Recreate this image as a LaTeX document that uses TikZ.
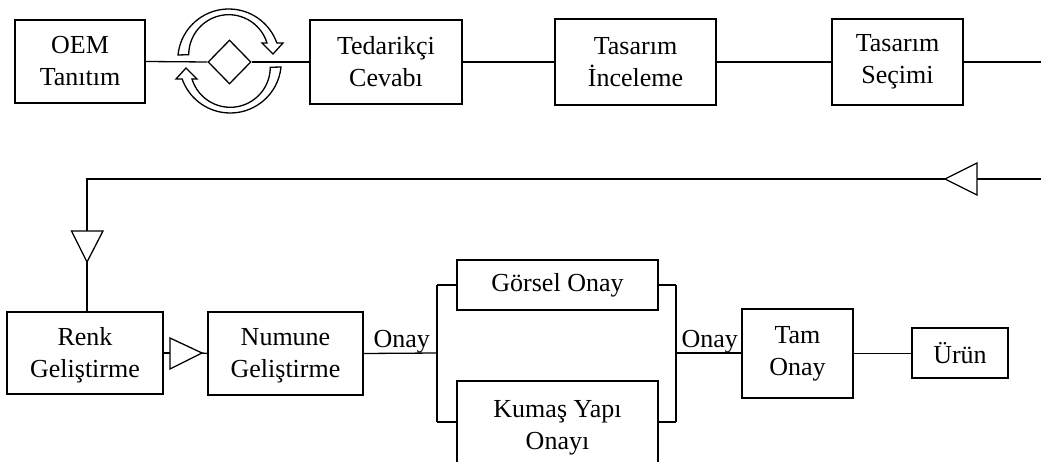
\documentclass[tikz,border=0pt]{standalone}
\usepackage{fontspec}
\setmainfont{Liberation Serif}
\usetikzlibrary{shapes.geometric}
\begin{document}
\begin{tikzpicture}[x=1pt,y=-1pt, line width=1.3pt,
  box/.style={draw, align=center, inner sep=0pt, font=\fontsize{26}{32}\selectfont},
  lbl/.style={inner sep=0pt, font=\fontsize{26}{32}\selectfont, anchor=base west},
  tri/.style={draw, fill=white, line join=miter},
  cyc/.style={draw, fill=white, line join=miter}]
\useasboundingbox (0,0) rectangle (1041,462);
\clip (0,0) rectangle (1041,462);
% top row
\node[box, minimum width=130pt, minimum height=83pt] (oem) at (80,61.5) {OEM\\Tanıtım};
\node[draw, diamond, inner sep=0pt, minimum width=43pt, minimum height=44pt] (dia) at (229.5,62) {};
\node[box, minimum width=152pt, minimum height=84pt] (ted) at (386,62) {Tedarikçi\\Cevabı};
\node[box, minimum width=161pt, minimum height=86pt] (tin) at (635.5,62) {Tasarım\\İnceleme};
\node[box, minimum width=131pt, minimum height=86pt] (tsec) at (897.5,62) {Tasarım\\Seçimi};
\coordinate (out1) at (1041,62);
% cycle arrows
\path[cyc] (178,55) arc[start angle=174.4, end angle=19.5, radius=51pt]
  -- (283,43) -- (273,54) -- (262,43) -- (267,43)
  arc[start angle=17, end angle=180, radius=40pt] -- cycle;
\path[cyc, rotate around={180:(229.5,61)}] (178,55) arc[start angle=174.4, end angle=19.5, radius=51pt]
  -- (283,43) -- (273,54) -- (262,43) -- (267,43)
  arc[start angle=17, end angle=180, radius=40pt] -- cycle;
\draw (oem.east) -- (dia.west);
\draw (dia.east) -- (ted.west);
\draw (ted.east) -- (tin.west);
\draw (tin.east) -- (tsec.west);
\draw (tsec.east) -- (tsec.east -| out1);
% bottom row
\node[box, minimum width=156pt, minimum height=82pt] (renk) at (85,353) {Renk\\Geli\smash{ş}tirme};
\node[box, minimum width=155pt, minimum height=83pt] (num) at (285.5,353.5) {Numune\\Geli\smash{ş}tirme};
\node[box, minimum width=201pt, minimum height=50pt] (gor) at (557.5,285) {Görsel Onay};
\node[box, minimum width=201pt, minimum height=94pt] (kum) at (557.5,428) {Kumaş Yapı\\Onayı};
\node[box, minimum width=111pt, minimum height=89pt] (tam) at (797.5,353.5) {Tam\\Onay};
\node[box, minimum width=96pt, minimum height=50pt] (urun) at (960,353) {Ürün};
% return loop
\coordinate (in2) at (1041,179);
\coordinate (lt) at (945,179);
\coordinate (lb) at (977,179);
\coordinate (corner) at (87,179);
\coordinate (dt) at (87,231);
\coordinate (db) at (87,262);
\draw (in2) -- (lb);
\draw (lt) -- (corner) -- (dt);
\draw (db) -- (db |- renk.north);
\path[tri] (lt) -- (977,163) -- (977,195) -- cycle;
\path[tri] (db) -- (71.5,231) -- (103,231) -- cycle;
% renk to numune
\coordinate (rb) at (170,353);
\coordinate (rt) at (202,353);
\draw (renk.east) -- (rb);
\draw (rt) -- (num.west);
\path[tri] (rt) -- (170,338) -- (170,369) -- cycle;
% split / join
\coordinate (sl) at (437,353);
\coordinate (slt) at (437,285);
\coordinate (slb) at (437,422);
\coordinate (sr) at (676,353);
\coordinate (srt) at (676,285);
\coordinate (srb) at (676,422);
\draw (num.east) -- (sl);
\draw (slt) -- (slb);
\draw (slt) -- (gor.west);
\draw (slb) -- (slb -| kum.west);
\draw (gor.east) -- (srt);
\draw (srt) -- (srb);
\draw (srb) -- (srb -| kum.east);
\draw (sr) -- (sr -| tam.west);
\draw (tam.east) -- (tam.east -| urun.west);
\node[lbl] (on1) at (373,347) {Onay};
\node[lbl] (on2) at (681,347) {Onay};
\end{tikzpicture}
\end{document}
